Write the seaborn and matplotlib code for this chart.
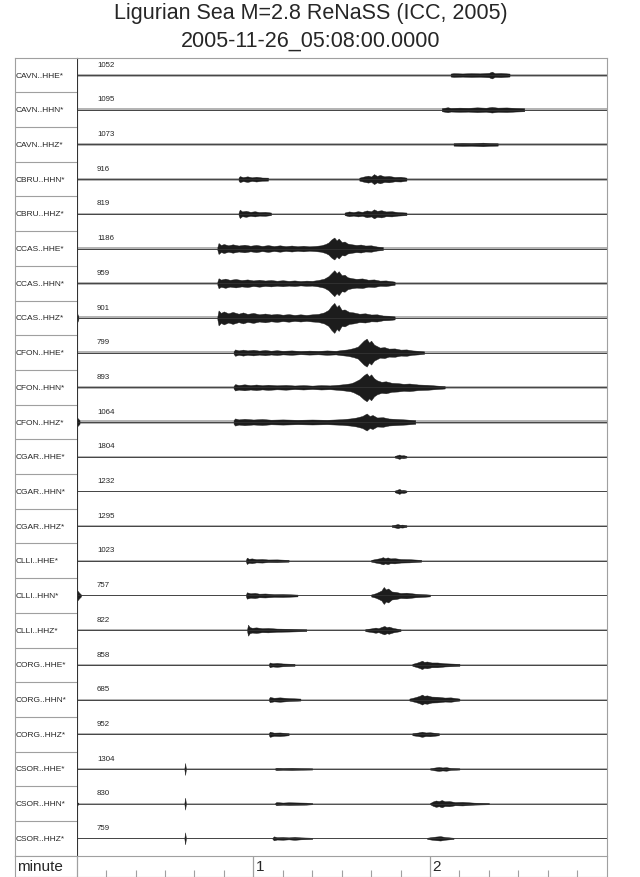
import numpy as np
import matplotlib
matplotlib.use("Agg")
import matplotlib.pyplot as plt
import seaborn as sns

# station / channel labels and the max count printed above each trace
channels = ["CAVN..HHE*", "CAVN..HHN*", "CAVN..HHZ*", "CBRU..HHN*", "CBRU..HHZ*",
            "CCAS..HHE*", "CCAS..HHN*", "CCAS..HHZ*", "CFON..HHE*", "CFON..HHN*",
            "CFON..HHZ*", "CGAR..HHE*", "CGAR..HHN*", "CGAR..HHZ*", "CLLI..HHE*",
            "CLLI..HHN*", "CLLI..HHZ*", "CORG..HHE*", "CORG..HHN*", "CORG..HHZ*",
            "CSOR..HHE*", "CSOR..HHN*", "CSOR..HHZ*"]
max_counts = [1052, 1095, 1073, 916, 819, 1186, 959, 901, 799, 893, 1064, 1804,
              1232, 1295, 1023, 757, 822, 858, 685, 952, 1304, 830, 759]

# background noise half-amplitude (screen px) per trace
noise_px = [1.5, 1.5, 1.2, 1.5, 1.3, 1.5, 1.6, 1.5, 1.2, 1.2, 1.8, 0.8, 0.8, 0.8,
            0.9, 0.9, 0.9, 1.0, 1.0, 1.0, 0.6, 0.6, 0.6]

# envelope knots of the wave trains: (seconds after 05:08:00, half-amplitude px)
CAVN_HHE = [[(127, 1.5), (128, 1.9), (131, 1.6), (134, 1.9), (137, 1.7), (140, 2.2), (141, 3.4),
             (142, 1.9), (144, 2.1), (147, 1.5)]]
CAVN_HHN = [[(124, 1.5), (126, 2.5), (127, 1.8), (130, 2.1), (133, 1.9), (136, 2.4), (139, 2),
             (141, 2.8), (143, 2.1), (146, 2.3), (149, 1.8), (152, 1.5)]]
CAVN_HHZ = [[(128, 1.2), (131, 1.5), (134, 1.3), (138, 1.8), (140, 1.4), (143, 1.2)]]
CBRU_HHN = [[(55, 1.5), (55.4, 3), (56.5, 2), (58, 2.8), (59.5, 1.8), (61, 2.4), (63, 1.6), (65, 1.5)],
            [(96, 1.5), (97.5, 2.6), (99, 3.5), (100, 2.6), (101, 5), (102, 3.2), (103, 4.2),
             (104.5, 2.8), (106, 3.2), (108, 2.2), (110, 2.4), (112, 1.5)]]
CBRU_HHZ = [[(55, 1.3), (55.4, 4.2), (56.2, 2.4), (57.5, 3), (59, 2), (60.5, 2.6), (62, 1.8),
             (64, 2), (66, 1.3)],
            [(91, 1.3), (92.5, 2.4), (94, 1.8), (95.5, 2.6), (97, 2), (98.5, 3.4), (100, 2.6),
             (101, 4.5), (102, 3), (103.5, 3.6), (105, 2.4), (107, 2.6), (109, 1.8), (112, 1.3)]]
CCAS_HHE = [[(47.8, 1.5), (48.2, 5.5), (49, 3.5), (50, 4.5), (51.5, 3.2), (53, 4.2), (55, 3),
             (57, 3.8), (59, 2.8), (61, 3.6), (63, 2.6), (65, 3.4), (67, 2.5), (69, 3.2), (71, 2.4),
             (73, 3), (75, 2.3), (77, 2.8), (79, 2.2), (81, 2.6), (83, 3.2), (84.5, 4.5), (85.5, 6),
             (86.5, 9), (87.5, 11), (88.3, 8), (89, 10), (90, 6.5), (91, 7), (92, 5), (93.5, 4.2),
             (95, 3.6), (96.5, 4), (98, 3), (100, 3.2), (102, 2), (104, 1.5)]]
CCAS_HHN = [[(47.8, 1.6), (48.2, 5), (49, 3.6), (50.5, 4.6), (52, 3.4), (54, 4.2), (56, 3.2),
             (58, 3.8), (60, 2.8), (62, 3.5), (64, 2.7), (66, 3.2), (68, 2.5), (70, 3), (72, 2.4),
             (74, 2.8), (76, 2.2), (78, 2.6), (80, 2.4), (82, 3.2), (84, 4.5), (85.5, 7), (86.5, 10),
             (87.5, 13), (88.3, 10), (89, 12), (90, 8), (91, 8.5), (92, 6), (93.5, 5), (95, 4.4),
             (97, 4.8), (99, 3.5), (101, 3.8), (103, 2.6), (105, 2.8), (108, 1.6)]]
CCAS_HHZ = [[(0, 6), (0.6, 1.5)],
            [(47.8, 1.5), (48.2, 7.5), (49, 5), (50, 6.5), (51.5, 4.6), (53, 6), (55, 4.2), (56.5, 5.5),
             (58, 4), (60, 5), (62, 3.6), (64, 4.4), (66, 3.4), (68, 4), (70, 3.2), (72, 3.8),
             (74, 3), (76, 3.6), (78, 3), (80, 3.6), (82, 4), (84, 5.5), (85.5, 8), (86.5, 12),
             (87.5, 15), (88.3, 11), (89, 13), (90, 8), (91, 8.5), (92.5, 6), (94, 5.5), (96, 4.2),
             (98, 4.6), (100, 3.4), (102, 3.6), (104, 2.4), (106, 2.2), (108, 1.5)]]
CFON_HHE = [[(53.3, 1.2), (53.8, 3.2), (55, 2.2), (56.5, 3), (58, 2.2), (60, 2.8), (62, 2),
             (64, 2.6), (66, 1.9), (68, 2.4), (70, 1.8), (73, 2.2), (76, 1.6), (79, 2), (82, 1.7),
             (85, 2.2), (88, 1.8), (90, 2.6), (92, 3.2), (94, 4.5), (95.5, 6), (96.5, 9), (97.5, 12),
             (98.5, 14), (99.3, 10), (100, 12), (101, 8), (102, 6.5), (103, 5), (104.5, 5.5),
             (106, 4), (108, 4.2), (110, 3), (112, 3.2), (114, 2.2), (116, 1.8), (118, 1.2)]]
CFON_HHN = [[(53.3, 1.2), (53.8, 3.2), (55, 2.3), (57, 3), (59, 2.2), (61, 2.8), (63, 2.1),
             (65, 2.6), (68, 2), (71, 2.4), (74, 1.8), (77, 2.2), (80, 1.7), (83, 2.2), (86, 1.9),
             (89, 2.6), (91, 3.2), (93, 4), (94, 5), (96, 8), (97.5, 12), (98.5, 14), (99.3, 11),
             (100, 13), (101, 9), (102, 7), (103.5, 5.5), (105, 6), (107, 4.5), (109, 4.2),
             (111, 3.5), (113, 3.8), (116, 2.8), (119, 2.5), (122, 1.8), (125, 1.2)]]
CFON_HHZ = [[(0, 5), (1, 1.8)],
            [(53.3, 1.8), (53.8, 3.6), (55, 2.6), (57, 3.2), (60, 2.5), (63, 3), (66, 2.3),
             (70, 2.6), (75, 2.2), (80, 2.5), (85, 2.2), (90, 2.8), (93, 3.6), (95, 4.5), (97, 6),
             (98.5, 8.5), (99.5, 6), (100.5, 7), (102, 4.5), (104, 4.8), (106, 3.5), (109, 3),
             (112, 2.5), (115, 1.8)]]
CGAR_HHE = [[(108, 0.8), (109, 1.6), (109.6, 2.2), (110.2, 1.3), (111, 1.5), (112, 0.8)]]
CGAR_HHN = [[(108, 0.8), (109, 1.8), (109.6, 2.5), (110.2, 1.4), (111, 1.6), (112, 0.8)]]
CGAR_HHZ = [[(107, 0.8), (108.3, 1.5), (109, 2.1), (109.8, 1.3), (110.6, 1.5), (112, 0.8)]]
CLLI_HHE = [[(57.5, 0.9), (57.8, 3.2), (58.5, 2), (59.5, 2.4), (61, 1.6), (63, 1.8), (65, 1.3),
             (68, 1.4), (72, 0.9)],
            [(100, 0.9), (101.5, 1.8), (103, 2.6), (104, 3.6), (104.8, 2.6), (105.6, 3.4),
             (106.5, 2.4), (108, 2.6), (110, 1.8), (113, 1.6), (117, 0.9)]]
CLLI_HHN = [[(0, 6), (0.8, 3), (1.5, 0.9)],
            [(57.5, 0.9), (57.8, 3.2), (59, 2.2), (60.5, 2.6), (62, 1.8), (64, 2), (67, 1.4),
             (70, 1.5), (75, 0.9)],
            [(100, 1), (101.5, 2.2), (102.5, 3.5), (103.5, 5), (104.3, 8.5), (105, 6), (105.8, 7),
             (107, 4), (108.5, 3.5), (110, 2.5), (112, 2.8), (115, 1.8), (118, 1.3), (120, 0.9)]]
CLLI_HHZ = [[(57.9, 0.9), (58.2, 5.5), (58.8, 3), (59.6, 2.4), (61, 2.8), (63, 2), (65, 2.2),
             (68, 1.6), (72, 1.4), (78, 0.9)],
            [(98, 1), (100, 1.8), (101.5, 2.6), (102.5, 2), (103.5, 3.2), (104.5, 4.2), (105.3, 3),
             (106, 3.6), (107.5, 2.2), (110, 0.9)]]
CORG_HHE = [[(65.3, 1), (65.6, 2.4), (66.5, 1.6), (68, 2), (70, 1.4), (74, 1)],
            [(114, 1), (115.5, 2.2), (116.5, 3.2), (117.3, 4.2), (118, 3), (119, 3.4), (120.5, 2.4),
             (122.5, 2.4), (125, 1.6), (130, 1)]]
CORG_HHN = [[(65.3, 1), (65.6, 2.6), (67, 1.8), (69, 2.2), (72, 1.5), (76, 1)],
            [(113, 1), (115, 2.4), (116.5, 3.8), (117.3, 5), (118, 3.8), (119, 4.2), (120.5, 3),
             (122.5, 2.8), (125, 2), (127, 2.2), (130, 1)]]
CORG_HHZ = [[(65.3, 1), (65.6, 2.6), (67, 1.6), (69, 1.8), (72, 1)],
            [(114, 1), (116, 1.8), (117.3, 2.6), (118.5, 1.8), (120, 2), (123, 1)]]
CSOR_HHE = [[(36.6, 0.6), (36.85, 6), (37.1, 0.6)],
            [(67.4, 0.6), (67.8, 1.2), (70, 0.9), (73, 1.1), (76, 0.8), (80, 0.6)],
            [(120, 0.6), (121.5, 1.4), (123, 2), (124.2, 1.5), (125.5, 1.8), (127, 1), (130, 0.6)]]
CSOR_HHN = [[(0, 2), (0.6, 0.6)],
            [(36.6, 0.6), (36.85, 6), (37.1, 0.6)],
            [(67.4, 0.6), (67.8, 1.6), (70, 1.1), (72, 1.4), (75, 1.2), (78, 1), (80, 0.6)],
            [(120, 0.6), (121, 2.2), (122, 3.2), (123, 2.6), (124, 3.6), (125, 2.4), (126.5, 2.6),
             (128.5, 1.6), (131, 1.8), (135, 1), (140, 0.6)]]
CSOR_HHZ = [[(36.6, 0.6), (36.85, 6), (37.1, 0.6)],
            [(66.5, 0.6), (67, 2), (68, 1.2), (70, 1.4), (72, 1), (74, 1.5), (76, 1), (80, 0.6)],
            [(119, 0.6), (120.5, 1.3), (122, 1.8), (123.5, 2.2), (125, 1.4), (128, 0.6)]]

bursts = [CAVN_HHE, CAVN_HHN, CAVN_HHZ, CBRU_HHN, CBRU_HHZ, CCAS_HHE, CCAS_HHN, CCAS_HHZ,
          CFON_HHE, CFON_HHN, CFON_HHZ, CGAR_HHE, CGAR_HHN, CGAR_HHZ, CLLI_HHE, CLLI_HHN,
          CLLI_HHZ, CORG_HHE, CORG_HHN, CORG_HHZ, CSOR_HHE, CSOR_HHN, CSOR_HHZ]

title_1 = "Ligurian Sea M=2.8 ReNaSS (ICC, 2005)"
title_2 = "2005-11-26_05:08:00.0000"

sns.set_style("white")
plt.rcParams["font.family"] = ["Liberation Sans", "DejaVu Sans"]

W, H = 640, 878
x0, x1 = 76.6, 606.7          # trace panel, px
ytop, ybot = 58.7, 856.7
n = len(channels)
row_px = (ybot - ytop) / n
grey = "#a0a0a0"

fig = plt.figure(figsize=(W / 100, H / 100), dpi=100)
ax = fig.add_axes([x0 / W, 1 - ybot / H, (x1 - x0) / W, (ybot - ytop) / H])
ax_lab = fig.add_axes([15 / W, 1 - ybot / H, (x0 - 15) / W, (ybot - ytop) / H])
ax_min = fig.add_axes([15 / W, 0, (x1 - 15) / W, (H - ybot) / H])

# traces
ax.set_xlim(0, 180)
ax.set_ylim(n, 0)
for i in range(n):
    c = i + 0.5
    a = noise_px[i] / row_px
    ax.fill_between([0, 180], c - a, c + a, color="#b4b4b4", lw=0)
    sns.lineplot(x=[0, 180], y=[c, c], ax=ax, color="#333333", lw=0.6)
    for seg in bursts[i]:
        t = np.array([p[0] for p in seg])
        amp = np.array([p[1] for p in seg]) / row_px
        ax.fill_between(t, c - amp, c + amp, color="#1c1c1c", lw=0.3, edgecolor="#1c1c1c")
    ax.text(6.9, i + 6.5 / row_px, str(max_counts[i]), fontsize=5.7, va="center", ha="left")
ax.set_xticks([])
ax.set_yticks([])
for s in ["top", "right"]:
    ax.spines[s].set_color(grey)
ax.spines["left"].set_color("#333333")
ax.spines["bottom"].set_visible(False)

# label column
ax_lab.set_xlim(0, 1)
ax_lab.set_ylim(n, 0)
for i, name in enumerate(channels):
    ax_lab.text(0.015, i + 0.5, name, fontsize=6, va="center", ha="left")
    if i > 0:
        ax_lab.axhline(i, color=grey, lw=0.8)
ax_lab.set_xticks([])
ax_lab.set_yticks([])
for s in ["top", "left", "bottom"]:
    ax_lab.spines[s].set_color(grey)
ax_lab.spines["right"].set_visible(False)

# minute strip
left_t = -(x0 - 15) / (x1 - x0) * 180
ax_min.set_xlim(left_t, 180)
ax_min.set_ylim(0, 1)
ax_min.set_xticks([t for t in range(10, 180, 10) if t % 60 != 0])
ax_min.set_xticklabels([])
ax_min.set_yticks([])
ax_min.tick_params(axis="x", direction="in", length=5, width=0.8, color=grey, bottom=True)
for t, lab in [(60, "1"), (120, "2")]:
    ax_min.axvline(t, color=grey, lw=0.9)
    ax_min.text(t + 0.8, 0.5, lab, fontsize=11, va="center", ha="left")
ax_min.axvline(0, color=grey, lw=0.9)
ax_min.text(left_t + 0.8, 0.5, "minute", fontsize=11, va="center", ha="left")
for s in ax_min.spines.values():
    s.set_color(grey)

fig.text(311 / W, 1 - 13 / H, title_1, fontsize=15.5, ha="center", va="center")
fig.text(311 / W, 1 - 41.5 / H, title_2, fontsize=15.5, ha="center", va="center")

fig.savefig("out.png", dpi=100)
